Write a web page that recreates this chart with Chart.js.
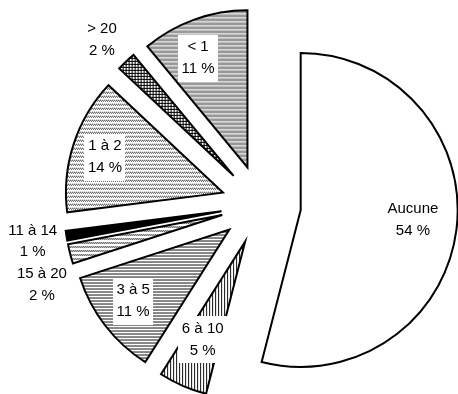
<!DOCTYPE html>
<html>
<head>
<meta charset="utf-8">
<script src="https://cdn.jsdelivr.net/npm/chart.js@4.4.1/dist/chart.umd.min.js"></script>
<style>
  html, body { margin: 0; padding: 0; background: #ffffff; }
  #wrap { width: 458px; height: 394px; position: relative; }
</style>
</head>
<body>
<div id="wrap"><canvas id="chart"></canvas></div>
<script>
// Share of respondents by number (categories, clockwise from 12 o'clock)
const categories = ['Aucune', '6 à 10', '3 à 5', '15 à 20', '11 à 14', '1 à 2', '> 20', '< 1'];
const shares = [54, 5, 11, 2, 1, 14, 2, 11];

// Fill style name for every slice, same order as categories
const fills = ['white', 'vlines', 'hlines', 'wave', 'black', 'wave', 'grid', 'dots'];

// Where each slice's label sits: fraction of the radius from the slice tip,
// a small turn (degrees) off the slice's middle, and whether it gets a white box
const labelPlacement = [
  { frac: 0.718, turn: -2.1, box: false },
  { frac: 0.680, turn: 0.0,  box: true  },
  { frac: 0.764, turn: 1.2,  box: true  },
  { frac: 1.232, turn: -6.8, box: false },
  { frac: 1.218, turn: 0.0,  box: false },
  { frac: 0.785, turn: -1.2, box: true  },
  { frac: 1.205, turn: -0.9, box: false },
  { frac: 0.765, turn: -4.5, box: true  }
];

const EXPLODE = 40;        // every slice is pulled out from the centre by this much
const FONT = '15px "Liberation Sans", Arial, sans-serif';
const LINE_H = 21.5;

// Small bitmap tiles used as hatch patterns
function tile(rows, ink) {
  const c = document.createElement('canvas');
  c.width = rows[0].length;
  c.height = rows.length;
  const g = c.getContext('2d');
  g.fillStyle = '#ffffff';
  g.fillRect(0, 0, c.width, c.height);
  g.fillStyle = ink || '#000000';
  rows.forEach((r, y) => {
    for (let x = 0; x < r.length; x++) if (r[x] === 'X') g.fillRect(x, y, 1, 1);
  });
  return g.createPattern(c, 'repeat');
}

const patterns = {
  white: '#ffffff',
  black: '#000000',
  vlines: tile(['X..'], '#111111'),
  hlines: tile(['X', '.', '.'], '#111111'),
  grid: tile(['XXX', 'X..', 'X..']),
  dots: tile(['X.X.', '.X.X', 'X.X.', '....'], '#333333'),
  wave: tile(['X.X.', '.X.X', '....', '....'], '#333333')
};

// Draws each slice pushed outward along its middle angle
const explodedSlices = {
  id: 'explodedSlices',
  beforeDatasetsDraw(chart) {
    const ctx = chart.ctx;
    const meta = chart.getDatasetMeta(0);
    meta.data.forEach(arc => {
      const mid = (arc.startAngle + arc.endAngle) / 2;
      ctx.save();
      ctx.translate(Math.cos(mid) * EXPLODE, Math.sin(mid) * EXPLODE);
      arc.draw(ctx);
      ctx.restore();
    });
    return false;
  }
};

// Two-line labels: category and percentage
const sliceLabels = {
  id: 'sliceLabels',
  afterDraw(chart) {
    const ctx = chart.ctx;
    const meta = chart.getDatasetMeta(0);
    ctx.save();
    ctx.font = FONT;
    ctx.textAlign = 'center';
    ctx.textBaseline = 'middle';
    meta.data.forEach((arc, i) => {
      const p = labelPlacement[i];
      const mid = (arc.startAngle + arc.endAngle) / 2;
      const tipX = arc.x + Math.cos(mid) * EXPLODE;
      const tipY = arc.y + Math.sin(mid) * EXPLODE;
      const a = mid + p.turn * Math.PI / 180;
      const r = arc.outerRadius * p.frac;
      const cx = tipX + Math.cos(a) * r;
      const cy = tipY + Math.sin(a) * r;
      const lines = [categories[i], shares[i] + ' %'];
      const y0 = cy - LINE_H / 2;
      if (p.box) {
        const w = Math.max(...lines.map(t => ctx.measureText(t).width)) + 7;
        const top = y0 - 12.5;
        const h = LINE_H + 25;
        ctx.fillStyle = '#ffffff';
        ctx.fillRect(Math.round(cx - w / 2), Math.round(top), Math.round(w), Math.round(h));
      }
      ctx.fillStyle = '#000000';
      lines.forEach((t, k) => ctx.fillText(t, cx, y0 + k * LINE_H));
    });
    ctx.restore();
  }
};

new Chart(document.getElementById('chart'), {
  type: 'pie',
  data: {
    labels: categories,
    datasets: [{
      data: shares,
      backgroundColor: fills.map(f => patterns[f]),
      borderColor: '#000000',
      borderWidth: 2,
      borderJoinStyle: 'miter'
    }]
  },
  options: {
    responsive: true,
    maintainAspectRatio: false,
    animation: false,
    events: [],
    radius: 157,
    layout: { padding: { left: 64, right: 0, top: 16, bottom: 0 } },
    plugins: {
      legend: { display: false },
      tooltip: { enabled: false },
      title: { display: false }
    }
  },
  plugins: [explodedSlices, sliceLabels]
});
</script>
</body>
</html>
